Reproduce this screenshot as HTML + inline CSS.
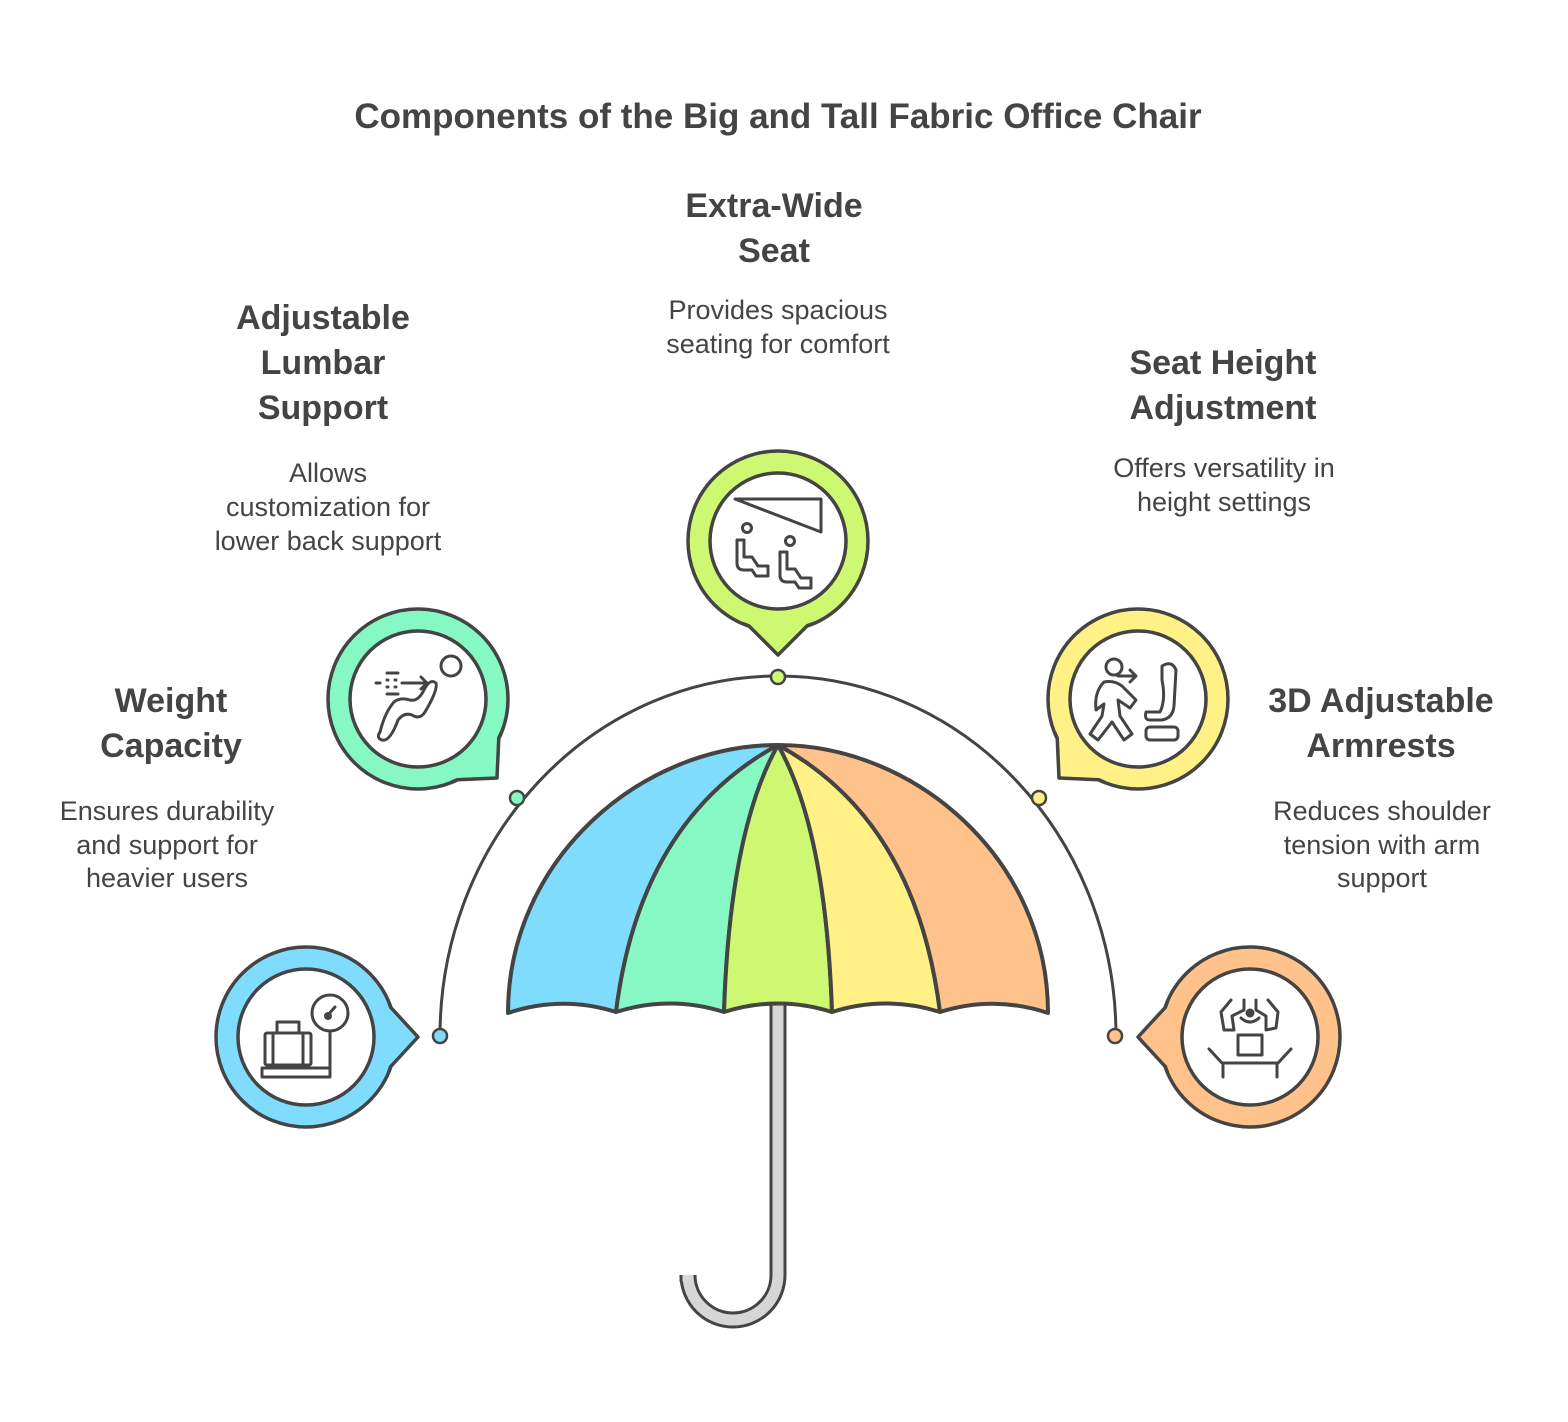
<!DOCTYPE html>
<html><head><meta charset="utf-8">
<style>
html,body{margin:0;padding:0;background:#fff;}
svg{display:block;}
text{font-family:"Liberation Sans",sans-serif;fill:#444;text-anchor:middle;}
.t{font-weight:bold;font-size:34px;}
.d{font-size:27px;}
</style></head>
<body>
<svg width="1568" height="1422" viewBox="0 0 1568 1422" xmlns="http://www.w3.org/2000/svg">
<text x="778" y="128" style="font-weight:bold;font-size:35px">Components of the Big and Tall Fabric Office Chair</text>

<path d="M440,1036 A338,360 0 0 1 1116,1036" fill="none" stroke="#444" stroke-width="3"/>

<path d="M778,1000 L778,1275 A45,45 0 0 1 688,1275 L688,1280" fill="none" stroke="#444" stroke-width="17" stroke-linecap="round"/>
<path d="M778,1000 L778,1275 A45,45 0 0 1 688,1275 L688,1280" fill="none" stroke="#d6d6d6" stroke-width="11" stroke-linecap="round"/>

<g stroke="#444" stroke-width="4" stroke-linejoin="round">
<path d="M778,745 C640,745 508,860 508,1013 Q562,995 616,1012 Q640,820 778,745Z" fill="#7fdcfc"/>
<path d="M778,745 Q640,820 616,1012 Q670,995 724,1012 Q730,830 778,745Z" fill="#86f8c4"/>
<path d="M778,745 Q730,830 724,1012 Q778,995 832,1012 Q826,830 778,745Z" fill="#cff872"/>
<path d="M778,745 Q826,830 832,1012 Q886,995 940,1012 Q916,820 778,745Z" fill="#fff186"/>
<path d="M778,745 Q916,820 940,1012 Q994,995 1048,1013 C1048,860 916,745 778,745Z" fill="#ffc28b"/>
</g>

<g stroke="#444" stroke-width="2.5">
<circle cx="440" cy="1036" r="7" fill="#7fdcfc"/>
<circle cx="517" cy="798" r="7" fill="#86f8c4"/>
<circle cx="778" cy="677" r="7" fill="#cff872"/>
<circle cx="1039" cy="798" r="7" fill="#fff186"/>
<circle cx="1115" cy="1036" r="7" fill="#ffc28b"/>
</g>

<g stroke="#444" stroke-width="3.5" stroke-linejoin="round">
<circle cx="306" cy="1037" r="90" fill="#7fdcfc"/>
<path d="M387.6,1004 L418,1037 L387.6,1070Z" fill="#7fdcfc"/>
<circle cx="306" cy="1037" r="88" fill="#7fdcfc" stroke="none"/>
<circle cx="306" cy="1037" r="68" fill="#fff"/>
<circle cx="418" cy="699" r="90" fill="#86f8c4"/>
<path d="M499,733 L497,778 L452,780Z" fill="#86f8c4"/>
<circle cx="418" cy="699" r="88" fill="#86f8c4" stroke="none"/>
<circle cx="418" cy="699" r="68" fill="#fff"/>
<circle cx="778" cy="541" r="90" fill="#cff872"/>
<path d="M811,622 L778,655 L745,622Z" fill="#cff872"/>
<circle cx="778" cy="541" r="88" fill="#cff872" stroke="none"/>
<circle cx="778" cy="541" r="68" fill="#fff"/>
<circle cx="1138" cy="699" r="90" fill="#fff186"/>
<path d="M1104,780 L1059,778 L1057,733Z" fill="#fff186"/>
<circle cx="1138" cy="699" r="88" fill="#fff186" stroke="none"/>
<circle cx="1138" cy="699" r="68" fill="#fff"/>
<circle cx="1250" cy="1037" r="90" fill="#ffc28b"/>
<path d="M1168.4,1004 L1138,1037 L1168.4,1070Z" fill="#ffc28b"/>
<circle cx="1250" cy="1037" r="88" fill="#ffc28b" stroke="none"/>
<circle cx="1250" cy="1037" r="68" fill="#fff"/>
</g>

<g fill="none" stroke="#444" stroke-width="3" stroke-linecap="round" stroke-linejoin="round">
<rect x="265" y="1033" width="46" height="32" rx="2"/>
<path d="M277,1033 V1022 H299 V1033 M273,1033 V1065 M303,1033 V1065"/>
<rect x="262" y="1068" width="68" height="9"/>
<circle cx="330" cy="1013" r="18"/>
<path d="M330,1031 V1068 M327,1016 L335,1007"/>
<circle cx="328" cy="1016" r="2.5" fill="#444"/>
<path d="M376,683 H380 M387,680 H388 M387,687 H388 M395,680 H396 M395,687 H396 M387,673 H398 M387,694 H398 M402,683 H427 M421,677 L427,683 L421,689"/>
<circle cx="451" cy="666" r="10"/>
<path d="M380,732 Q376,738 382,740 Q390,742 398,720 Q404,712 412,715 Q420,720 425,712 Q438,690 436,683 Q430,678 424,690 Q418,702 410,700 Q400,697 394,702 Q385,712 380,732Z"/>
<path d="M735,499 H821 V532 Z"/>
<circle cx="747" cy="528" r="4.5"/>
<circle cx="790" cy="541" r="4.5"/>
<path d="M737,540 V563 Q737,570 744,570 H752 L756,576 H768 V566 H758 L752,557 H744 V540 Z"/>
<path d="M780,552 V575 Q780,582 787,582 H795 L799,588 H811 V578 H801 L795,569 H787 V552 Z"/>
<circle cx="1114" cy="667" r="8"/>
<path d="M1104,682 Q1094,692 1096,710 L1104,704 L1102,716 L1090,734 L1098,740 L1112,722 L1124,740 L1132,734 L1120,716 L1118,700 L1130,708 L1136,700 L1122,686 Q1114,680 1104,682Z"/>
<path d="M1118,676 H1136 M1130,670 L1136,676 L1130,682"/>
<path d="M1162,666 Q1172,660 1176,670 L1174,706 Q1173,718 1162,720 H1150 Q1144,720 1146,712 L1160,712 Q1166,700 1162,680 Z"/>
<rect x="1146" y="727" width="32" height="13" rx="4"/>
<path d="M1231,1000 L1221,1012 L1224,1030 L1234,1030 L1232,1016 L1244,1010 L1244,1000 M1268,1000 L1278,1012 L1276,1028 L1266,1030 L1266,1016 L1256,1010 L1256,1000"/>
<circle cx="1250" cy="1013" r="3" fill="#444"/>
<path d="M1241,1018 Q1250,1026 1259,1018"/>
<rect x="1238" y="1035" width="24" height="20"/>
<path d="M1209,1049 L1222,1063 H1278 L1291,1049 M1223,1063 V1077 M1277,1063 V1077"/>
</g>

<text class="t" x="774" y="217">Extra-Wide</text>
<text class="t" x="774" y="262">Seat</text>
<text class="d" x="778" y="319">Provides spacious</text>
<text class="d" x="778" y="353">seating for comfort</text>

<text class="t" x="323" y="329">Adjustable</text>
<text class="t" x="323" y="374">Lumbar</text>
<text class="t" x="323" y="419">Support</text>
<text class="d" x="328" y="482">Allows</text>
<text class="d" x="328" y="516">customization for</text>
<text class="d" x="328" y="550">lower back support</text>

<text class="t" x="1223" y="374">Seat Height</text>
<text class="t" x="1223" y="419">Adjustment</text>
<text class="d" x="1224" y="477">Offers versatility in</text>
<text class="d" x="1224" y="511">height settings</text>

<text class="t" x="171" y="712">Weight</text>
<text class="t" x="171" y="757">Capacity</text>
<text class="d" x="167" y="820">Ensures durability</text>
<text class="d" x="167" y="854">and support for</text>
<text class="d" x="167" y="887">heavier users</text>

<text class="t" x="1381" y="712">3D Adjustable</text>
<text class="t" x="1381" y="757">Armrests</text>
<text class="d" x="1382" y="820">Reduces shoulder</text>
<text class="d" x="1382" y="854">tension with arm</text>
<text class="d" x="1382" y="887">support</text>
</svg>
</body></html>
